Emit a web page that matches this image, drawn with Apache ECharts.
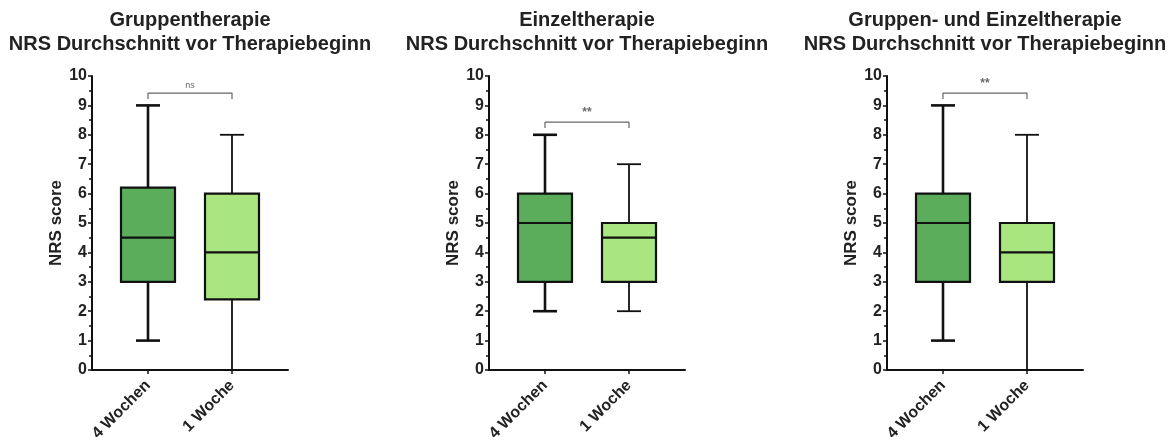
<!DOCTYPE html>
<html>
<head>
<meta charset="utf-8">
<script src="https://cdn.jsdelivr.net/npm/echarts@6/dist/echarts.min.js"></script>
<style>
html,body{margin:0;padding:0;background:#fff;}
#c{width:1175px;height:437px;}
</style>
</head>
<body>
<div id="c"></div>
<script>
// ---- data ----
const panelTitles = [
  'Gruppentherapie\nNRS Durchschnitt vor Therapiebeginn',
  'Einzeltherapie\nNRS Durchschnitt vor Therapiebeginn',
  'Gruppen- und Einzeltherapie\nNRS Durchschnitt vor Therapiebeginn'
];
const categories = ['4 Wochen', '1 Woche'];
const yTicks = [0, 1, 2, 3, 4, 5, 6, 7, 8, 9, 10];
const yAxisName = 'NRS score';
// [min, Q1, median, Q3, max] for each category
const gruppe = [[1, 3, 4.5, 6.2, 9], [0, 2.4, 4, 6, 8]];
const einzel = [[2, 3, 5, 6, 8], [2, 3, 4.5, 5, 7]];
const beide  = [[1, 3, 5, 6, 9], [0, 3, 4, 5, 8]];
const sigLabels = ['ns', '**', '**'];
const sigLevel = [9.42, 8.43, 9.42];
const sigDrop = 0.2;

// ---- layout / style ----
const gridLefts = [92, 489, 887];
const gridWidth = 196;
const gridTop = 76, gridHeight = 294;
const boxFill = ['#5BAC5B', '#AAE680'];
const whiskerW = [2.6, 1.8];
const FONT = 'Liberation Sans, Arial, Helvetica, sans-serif';
const TXT = '#222';

const panels = [gruppe, einzel, beide];

const option = {
  animation: false,
  backgroundColor: '#fff',
  title: [], grid: [], xAxis: [], yAxis: [], series: []
};

panels.forEach((panel, p) => {
  const cx = gridLefts[p] + gridWidth / 2;
  option.title.push({
    text: panelTitles[p], left: cx, top: 8, textAlign: 'center', padding: 0,
    textStyle: { fontFamily: FONT, fontSize: 20, fontWeight: 'bold', color: TXT, lineHeight: 24 }
  });
  option.grid.push({ left: gridLefts[p], top: gridTop, width: gridWidth, height: gridHeight,
    containLabel: false, outerBoundsMode: 'none' });
  option.xAxis.push({
    type: 'value', gridIndex: p, min: -2 / 3, max: 5 / 3,
    splitLine: { show: false },
    axisLine: { show: true, onZero: false, lineStyle: { color: '#111', width: 2 } },
    axisTick: { show: true, customValues: [0, 1], length: 4, lineStyle: { color: '#111', width: 1.5 } },
    axisLabel: {
      show: true, customValues: [0, 1], rotate: 45, margin: 13,
      formatter: v => categories[Math.round(v)] || '',
      fontFamily: FONT, fontSize: 16, fontWeight: 'bold', color: TXT
    }
  });
  option.yAxis.push({
    type: 'value', gridIndex: p, min: 0, max: 10, interval: 1,
    name: yAxisName, nameLocation: 'middle', nameGap: 27, nameRotate: 90,
    nameTextStyle: { fontFamily: FONT, fontSize: 17, fontWeight: 'bold', color: TXT },
    splitLine: { show: false },
    axisLine: { show: true, onZero: false, lineStyle: { color: '#111', width: 2 } },
    axisTick: { show: true, length: 4, lineStyle: { color: '#111', width: 1.5 } },
    minorTick: { show: true, splitNumber: 2, length: 3, lineStyle: { color: '#111', width: 1.5 } },
    axisLabel: {
      margin: 5, formatter: v => String(v),
      fontFamily: FONT, fontSize: 16, fontWeight: 'bold', color: TXT
    }
  });

  const data = panel.map((d, i) => [i].concat(d));
  option.series.push({
    type: 'custom', xAxisIndex: p, yAxisIndex: p, data: data,
    encode: { x: 0, y: [1, 2, 3, 4, 5] },
    renderItem: function (params, api) {
      const idx = api.value(0);
      const pMin = api.coord([idx, api.value(1)]);
      const pQ1 = api.coord([idx, api.value(2)]);
      const pMed = api.coord([idx, api.value(3)]);
      const pQ3 = api.coord([idx, api.value(4)]);
      const pMax = api.coord([idx, api.value(5)]);
      const half = 27, cap = 12;
      const x = pQ1[0];
      const ww = whiskerW[idx];
      const ls = { stroke: '#111', lineWidth: ww };
      return {
        type: 'group',
        children: [
          { type: 'line', shape: { x1: x, y1: pQ3[1], x2: x, y2: pMax[1] }, style: ls },
          { type: 'line', shape: { x1: x, y1: pQ1[1], x2: x, y2: pMin[1] }, style: ls },
          { type: 'line', shape: { x1: x - cap, y1: pMax[1], x2: x + cap, y2: pMax[1] }, style: ls },
          { type: 'line', shape: { x1: x - cap, y1: pMin[1], x2: x + cap, y2: pMin[1] }, style: ls },
          { type: 'rect', shape: { x: x - half, y: pQ3[1], width: half * 2, height: pQ1[1] - pQ3[1] },
            style: { fill: boxFill[idx], stroke: '#111', lineWidth: 2.2 } },
          { type: 'line', shape: { x1: x - half, y1: pMed[1], x2: x + half, y2: pMed[1] },
            style: { stroke: '#111', lineWidth: 2.2 } }
        ]
      };
    }
  });

  const y = sigLevel[p];
  option.series.push({
    type: 'line', xAxisIndex: p, yAxisIndex: p, symbol: 'none', silent: true,
    data: [[0, y - sigDrop], [0, y], [1, y], [1, y - sigDrop]],
    lineStyle: { color: '#666', width: 1.2 }
  });
  option.series.push({
    type: 'scatter', xAxisIndex: p, yAxisIndex: p, symbolSize: 0, silent: true,
    data: [[0.5, y]],
    label: {
      show: true, position: 'top', distance: 3, formatter: sigLabels[p],
      fontFamily: FONT, fontSize: sigLabels[p] === 'ns' ? 9 : 12, fontWeight: sigLabels[p] === 'ns' ? 'normal' : 'bold', color: '#444'
    }
  });
});

const chart = echarts.init(document.getElementById('c'), null, { renderer: 'canvas' });
chart.setOption(option);
</script>
</body>
</html>
